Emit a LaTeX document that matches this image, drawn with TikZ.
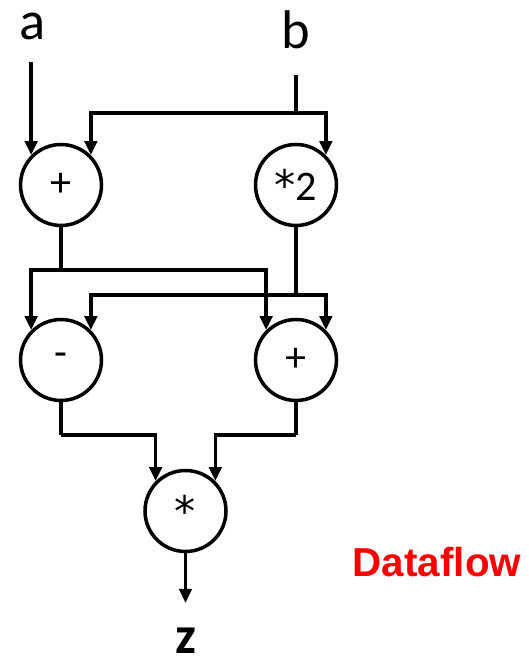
\documentclass[tikz,border=0pt]{standalone}
\usepackage{fontspec}
\setmainfont{Carlito}
\newfontfamily\arialfont{Liberation Sans}
\newfontfamily\starfont{DejaVu Sans}
\usetikzlibrary{arrows.meta}

\tikzset{
  op/.style={draw, circle, minimum size=1.62cm, inner sep=0pt,
    font=\fontsize{24}{28}\selectfont},
  io/.style={inner sep=0pt, font=\fontsize{31}{36}\selectfont},
  wire/.style={line width=2pt},
  >={Triangle[length=8pt,width=7pt]}
}

\begin{document}
\begin{tikzpicture}[wire]
  \useasboundingbox (0,0) rectangle (10.56,13.36);

  % operators
  \node[op] (add1) at (1.22,9.66) {+};
  \node[op] (dbl)  at (5.92,9.66) {{\starfont*}2};
  \node[op] (sub)  at (1.22,6.16) {-};
  \node[op] (add2) at (5.92,6.16) {+};
  \node[op] (mul)  at (3.71,3.14) {\raisebox{-0.12em}{\starfont*}};

  % inputs and output
  \node[io] (a) at (0.65,12.84) {a};
  \node[io] (b) at (5.92,12.76) {b};
  \node[io, font=\fontsize{30}{36}\selectfont\bfseries] (z) at (3.71,0.55) {z};
  \node[font=\fontsize{23}{28}\selectfont\arialfont\bfseries, text=red]
    (title) at (8.74,2.12) {Dataflow};

  \coordinate (ain)  at (add1.135 |- 0,12.12);
  \coordinate (bin)  at (5.92,11.86);
  \coordinate (bfork) at (5.92,11.1);
  \coordinate (fork1) at (1.22,7.96);
  \coordinate (fork2) at (5.92,7.46);
  \coordinate (join1) at (1.22,4.66);
  \coordinate (join2) at (5.92,4.66);
  \coordinate (zout) at (3.71,1.3);

  % first level
  \draw[->] (ain) -- (add1.135);
  \draw (bin) -- (bfork);
  \draw[->] (bfork) -| (add1.45);
  \draw[->] (bfork) -| (dbl.45);

  % second level
  \draw (add1) -- (fork1);
  \draw[->] (fork1) -| (sub.135);
  \draw[->] (fork1) -| (add2.135);
  \draw (dbl) -- (fork2);
  \draw[->] (fork2) -| (sub.45);
  \draw[->] (fork2) -| (add2.45);

  % product
  \draw (sub) -- (join1);
  \draw[->] (join1) -| (mul.135);
  \draw (add2) -- (join2);
  \draw[->] (join2) -| (mul.45);
  \draw[->] (mul) -- (zout);

\end{tikzpicture}
\end{document}
